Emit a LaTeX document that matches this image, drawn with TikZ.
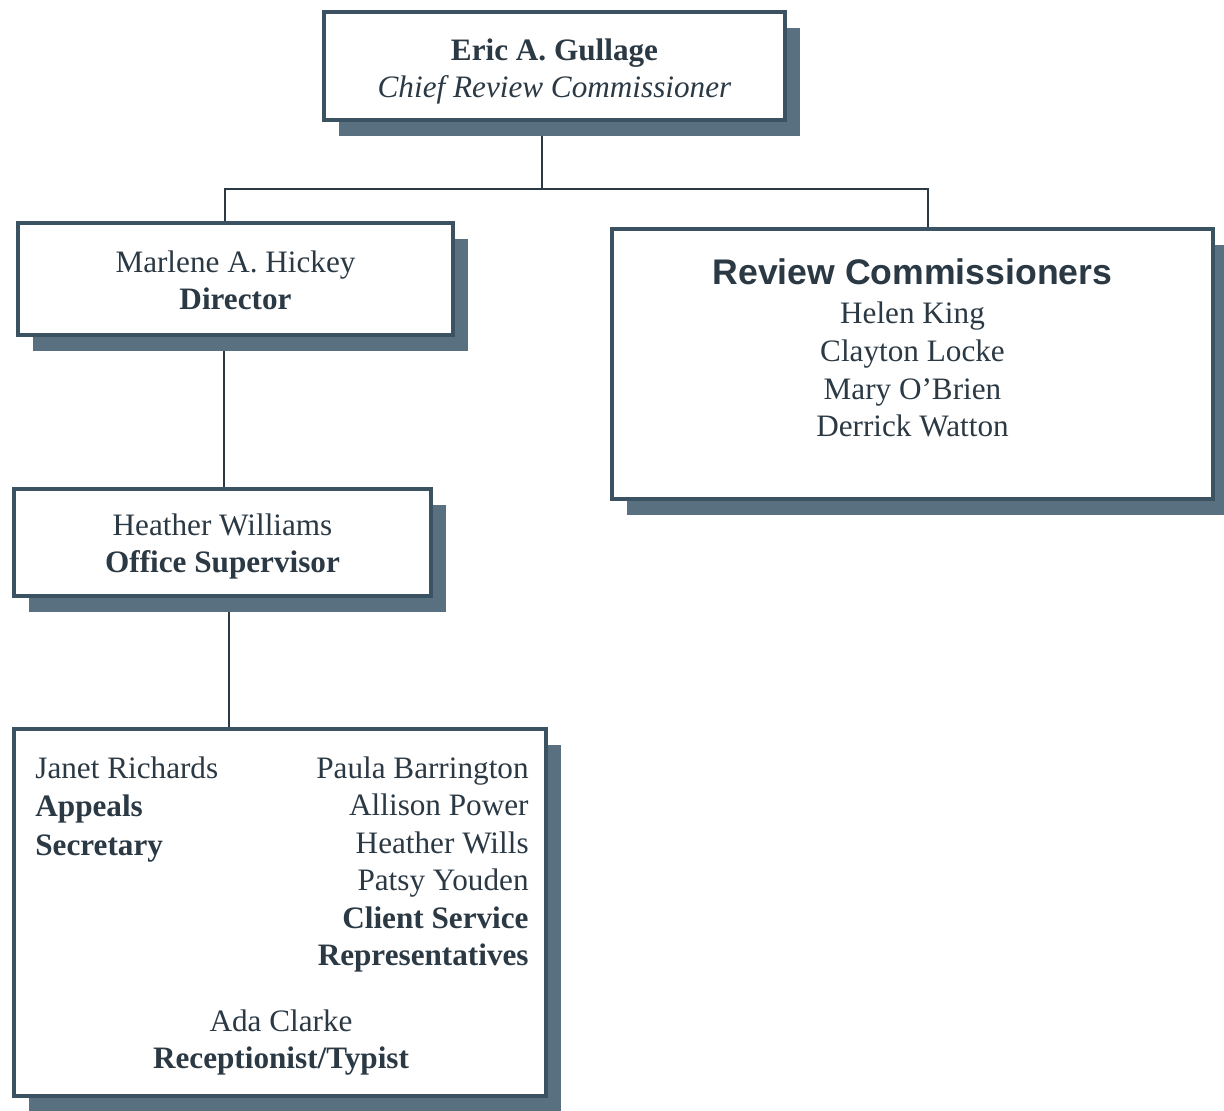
\documentclass[tikz,border=0pt]{standalone}
\usepackage{fontspec}
\setmainfont{Liberation Serif}
\newfontfamily\headsans{Liberation Sans}
\usepackage{tikz}
\usetikzlibrary{shadows,backgrounds}
\definecolor{ink}{HTML}{2B3944}
\definecolor{frame}{HTML}{3A5262}
\definecolor{boxshade}{HTML}{587080}

\begin{document}
\begin{tikzpicture}
[x=0.5pt,y=-0.5pt,
unit/.style={draw=frame,line width=2pt,fill=white,inner sep=0pt,
drop shadow={shadow xshift=7.5pt,shadow yshift=-8pt,fill=boxshade,opacity=1}},
link/.style={draw=ink,line width=1.1pt},
txt/.style={inner sep=0pt,font=\fontsize{15.6}{18.75}\selectfont,text=ink}]
\useasboundingbox (0,0) rectangle (1224,1111);
\node[unit,minimum width=230.5pt,minimum height=54pt] (chief) at (554.5,66) {};
\node[unit,minimum width=217.5pt,minimum height=56pt] (dir) at (235.5,279) {};
\node[unit,minimum width=208.5pt,minimum height=53.5pt] (sup) at (222.5,542.5) {};
\node[unit,minimum width=300.5pt,minimum height=135pt] (rc) at (912.5,364) {};
\node[unit,minimum width=266pt,minimum height=183.5pt] (staff) at (280,912.5) {};
\node[txt,align=center] (chieftxt) at ([yshift=-2.75pt]chief.center)
{\textbf{Eric A. Gullage}\\\textit{Chief Review Commissioner}};
\node[txt,align=center] (dirtxt) at ([yshift=-0.75pt]dir.center)
{Marlene A. Hickey\\\textbf{Director}};
\node[txt,align=center] (suptxt) at ([yshift=-2pt]sup.center)
{Heather Williams\\\textbf{Office Supervisor}};
\node[txt,align=center,anchor=north,font=\fontsize{15.6}{18.85}\selectfont] (rclist) at ([yshift=-15.5pt]rc.north)
{{\headsans\bfseries\fontsize{17.8}{18.85}\selectfont Review Commissioners}\\[1pt]
Helen King\\Clayton Locke\\Mary O'Brien\\Derrick Watton};
\node[txt,align=left,anchor=north west,font=\fontsize{15.6}{19.25}\selectfont] (appeals) at ([xshift=11.5pt,yshift=-14.5pt]staff.north west)
{Janet Richards\\\textbf{Appeals}\\\textbf{Secretary}};
\node[txt,align=right,anchor=north east] (csr) at ([xshift=-9.5pt,yshift=-14.5pt]staff.north east)
{Paula Barrington\\Allison Power\\Heather Wills\\Patsy Youden\\\textbf{Client Service}\\\textbf{Representatives}};
\node[txt,align=center,anchor=south] (recep) at ([xshift=0.5pt,yshift=11pt]staff.south)
{Ada Clarke\\\textbf{Receptionist/Typist}};
\begin{scope}[on background layer]
\draw[link] ([xshift=-6.25pt]chief.south) -- ++(0,67) coordinate (fork);
\draw[link] (fork) -| ([xshift=-5.25pt]dir.north);
\draw[link] (fork) -| ([xshift=7.75pt]rc.north);
\draw[link] ([xshift=-5.75pt]dir.south) -- ([xshift=-5.75pt]dir.south |- sup.north);
\draw[link] ([xshift=3.25pt]sup.south) -- ([xshift=3.25pt]sup.south |- staff.north);
\end{scope}
\end{tikzpicture}
\end{document}
